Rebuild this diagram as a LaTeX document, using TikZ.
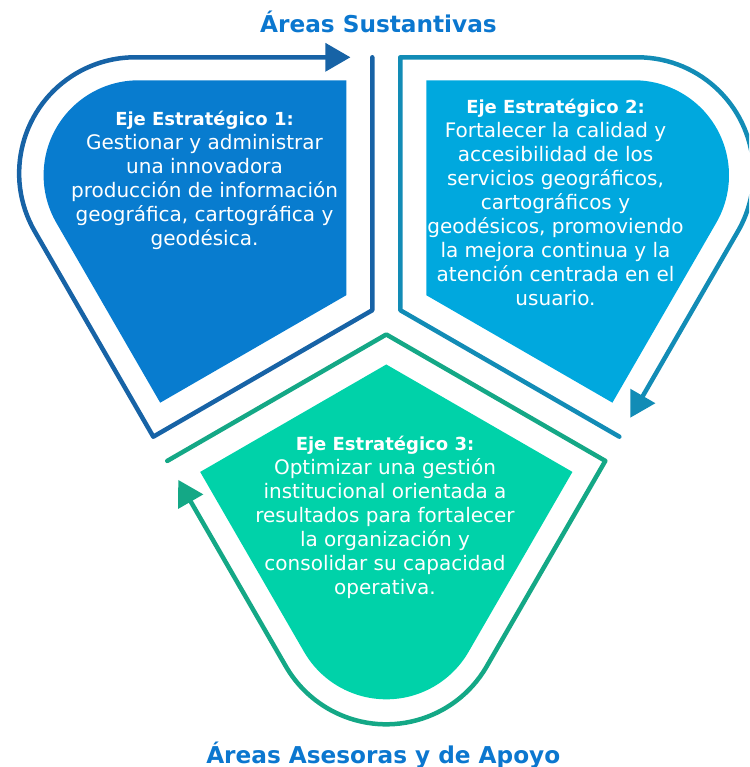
\documentclass[tikz,border=0pt]{standalone}
\usepackage{fontspec}
\setmainfont{DejaVu Sans}
\definecolor{cAfill}{HTML}{087CCF}
\definecolor{cAline}{HTML}{1763A6}
\definecolor{cBfill}{HTML}{00A8DE}
\definecolor{cBline}{HTML}{128CB6}
\definecolor{cCfill}{HTML}{00D2A9}
\definecolor{cCline}{HTML}{14A886}
\definecolor{titlecol}{HTML}{0B77CF}
\newcommand\ejeText[2]{\fontsize{20}{24}\selectfont\setlength\tabcolsep{0pt}\begin{tabular}[t]{c}{\fontsize{18}{24}\selectfont\bfseries #1}\\#2\end{tabular}}
\tikzset{
  ejetext/.style={anchor=base, inner sep=0pt, text=white},
  areatitle/.style={anchor=base, inner sep=0pt, text=titlecol, font=\fontsize{23.2}{27}\selectfont\bfseries},
  ejeline/.style={line width=4.5pt, line cap=round, line join=round}
}
\begin{document}
\begin{tikzpicture}[x=1pt,y=1pt]
\useasboundingbox (-386.3,-448.7) rectangle (362.7,318.3);
\clip (-386.3,-448.7) rectangle (362.7,318.3);
\foreach \ang/\fc/\lc in {0/cAfill/cAline, -120/cBfill/cBline, 120/cCfill/cCline} {
  \begin{scope}[rotate=\ang]
    \fill[\fc] (-40,23.09) -- (-40,238) -- (-247.7,238) arc[start angle=90,end angle=210,radius=95] -- (-226.1,-84.4) -- cycle;
    \draw[\lc, ejeline] (-14,261) -- (-14,8.08) -- (-233,-118.4) -- (-351.6,87) arc[start angle=210,end angle=90,radius=116] -- (-60,261);
    \fill[\lc] (-36,261) -- (-61,275.5) -- (-61,246.5) -- cycle;
  \end{scope}
}
\node[areatitle] (top) at (-7.8,285.3) {Áreas Sustantivas};
\node[areatitle] (bottom) at (-3,-444.7) {Áreas Asesoras y de Apoyo};
\node[ejetext] (e1) at (-181.8,192.3) {\ejeText{Eje Estratégico 1:}{Gestionar y administrar\\una innovadora\\producción de información\\geográfica, cartográfica y\\geodésica.}};
\node[ejetext] (e2) at (169.2,205) {\ejeText{Eje Estratégico 2:}{Fortalecer la calidad y\\accesibilidad de los\\servicios geográficos,\\cartográficos y\\geodésicos, promoviendo\\la mejora continua y la\\atención centrada en el\\usuario.}};
\node[ejetext] (e3) at (-1.3,-131.7) {\ejeText{Eje Estratégico 3:}{Optimizar una gestión\\institucional orientada a\\resultados para fortalecer\\la organización y\\consolidar su capacidad\\operativa.}};
\end{tikzpicture}
\end{document}
